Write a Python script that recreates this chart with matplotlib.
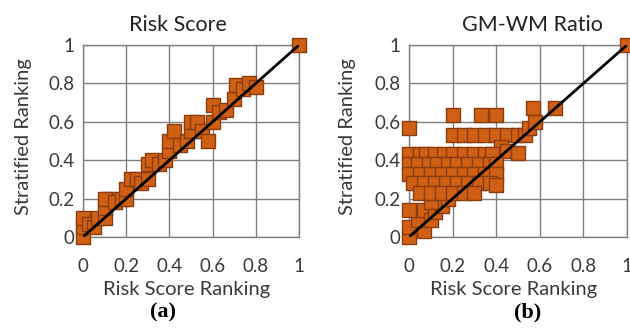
import numpy as np
import matplotlib
matplotlib.use("Agg")
import matplotlib.pyplot as plt

# stratified vs. risk-score ranking, one panel per feature
risk_x = [0.00, 0.00, 0.00, 0.03, 0.05, 0.07, 0.10, 0.10, 0.12, 0.10, 0.15, 0.18,
          0.20, 0.20, 0.22, 0.25, 0.27, 0.30, 0.30, 0.32, 0.35, 0.38, 0.40, 0.40,
          0.42, 0.45, 0.48, 0.50, 0.50, 0.53, 0.55, 0.58, 0.60, 0.60, 0.63, 0.66,
          0.70, 0.71, 0.74, 0.77, 0.80, 1.00]
risk_y = [0.00, 0.05, 0.10, 0.07, 0.05, 0.10, 0.10, 0.15, 0.20, 0.20, 0.18, 0.20,
          0.20, 0.25, 0.30, 0.30, 0.28, 0.30, 0.38, 0.40, 0.38, 0.40, 0.45, 0.50,
          0.55, 0.48, 0.50, 0.55, 0.60, 0.60, 0.55, 0.50, 0.60, 0.69, 0.65, 0.66,
          0.72, 0.79, 0.77, 0.80, 0.78, 1.00]

gmwm_x = [0.00, 0.00, 0.07, 0.04, 0.00, 0.07, 0.10, 0.12, 0.15, 0.10, 0.18,
          0.00,
          0.20, 0.33, 0.40, 0.57, 0.67, 1.00,
          0.20, 0.25, 0.30, 0.35, 0.40, 0.45, 0.50, 0.53, 0.55, 0.58,
          0.42, 0.45, 0.50,
          0.00, 0.05, 0.08, 0.12, 0.16, 0.20, 0.25, 0.30, 0.35, 0.38,
          0.00, 0.04, 0.09, 0.13, 0.18, 0.22, 0.27, 0.32, 0.37, 0.40,
          0.00, 0.05, 0.10, 0.15, 0.20, 0.25, 0.30, 0.35, 0.40,
          0.02, 0.07, 0.12, 0.17, 0.22, 0.27, 0.32, 0.37,
          0.05, 0.10, 0.15, 0.20, 0.25, 0.30, 0.40]
gmwm_y = [0.00, 0.05, 0.03, 0.09, 0.14, 0.14, 0.09, 0.13, 0.16, 0.18, 0.20,
          0.57,
          0.635, 0.635, 0.635, 0.67, 0.67, 1.00,
          0.53, 0.53, 0.53, 0.53, 0.53, 0.53, 0.53, 0.53, 0.57, 0.60,
          0.47, 0.45, 0.44,
          0.43, 0.43, 0.43, 0.43, 0.43, 0.43, 0.43, 0.43, 0.43, 0.43,
          0.38, 0.38, 0.38, 0.38, 0.38, 0.38, 0.38, 0.38, 0.38, 0.38,
          0.33, 0.33, 0.33, 0.33, 0.33, 0.33, 0.33, 0.33, 0.33,
          0.28, 0.28, 0.28, 0.28, 0.28, 0.28, 0.28, 0.28,
          0.23, 0.23, 0.23, 0.23, 0.23, 0.23, 0.27]

panels = [("Risk Score", "(a)", risk_x, risk_y),
          ("GM-WM Ratio", "(b)", gmwm_x, gmwm_y)]

ticks = [0, 0.2, 0.4, 0.6, 0.8, 1]
tick_labels = ["0", "0.2", "0.4", "0.6", "0.8", "1"]

FILL = "#cf5f12"
EDGE = "#8a3d10"
GRID = "#808080"
TXT = "#3a3a3a"
FONT = "Lato"

W, H = 630, 329
fig = plt.figure(figsize=(W / 100, H / 100), dpi=100)

# axes boxes in pixels: left, top, right, bottom
boxes = [(83, 45, 299, 237), (409, 45, 627, 237)]
title_x = [178, 532]
sub_x = [163, 528]
ylab_x = [24, 348]

for i, (title, sub, xs, ys) in enumerate(panels):
    l, t, r, b = boxes[i]
    ax = fig.add_axes([l / W, 1 - b / H, (r - l) / W, (b - t) / H])
    ax.set_xlim(0, 1)
    ax.set_ylim(0, 1)
    ax.set_xticks(ticks)
    ax.set_yticks(ticks)
    ax.set_xticklabels(tick_labels, fontsize=13.5, color=TXT, family=FONT)
    ax.set_yticklabels(tick_labels, fontsize=13.5, color=TXT, family=FONT)
    ax.tick_params(length=0)
    ax.tick_params(axis="x", pad=15)
    ax.tick_params(axis="y", pad=6)
    ax.grid(True, color=GRID, lw=1)
    ax.set_axisbelow(True)
    for s in ax.spines.values():
        s.set_color(GRID)
        s.set_linewidth(1)

    ax.scatter(xs, ys, s=115, marker="s", color=FILL, edgecolor=EDGE,
               linewidths=1, clip_on=False, zorder=3)
    ax.plot([0, 1], [0, 1], color="black", lw=2, zorder=4)

    fig.text((l + r) / 2 / W - 4 / W, 1 - 290 / H, "Risk Score Ranking",
             ha="center", va="center", fontsize=14.5, color=TXT, family=FONT)
    fig.text(ylab_x[i] / W, 1 - 137 / H, "Stratified Ranking", rotation=90,
             ha="center", va="center", fontsize=14.5, color=TXT, family=FONT)
    fig.text(title_x[i] / W, 1 - 25 / H, title, ha="center", va="center",
             fontsize=15.5, color="#222222", family=FONT)
    fig.text(sub_x[i] / W, 1 - 312 / H, sub, ha="center", va="center",
             fontsize=16, fontweight="bold", family="Liberation Serif")

fig.savefig("out.png", dpi=100)
